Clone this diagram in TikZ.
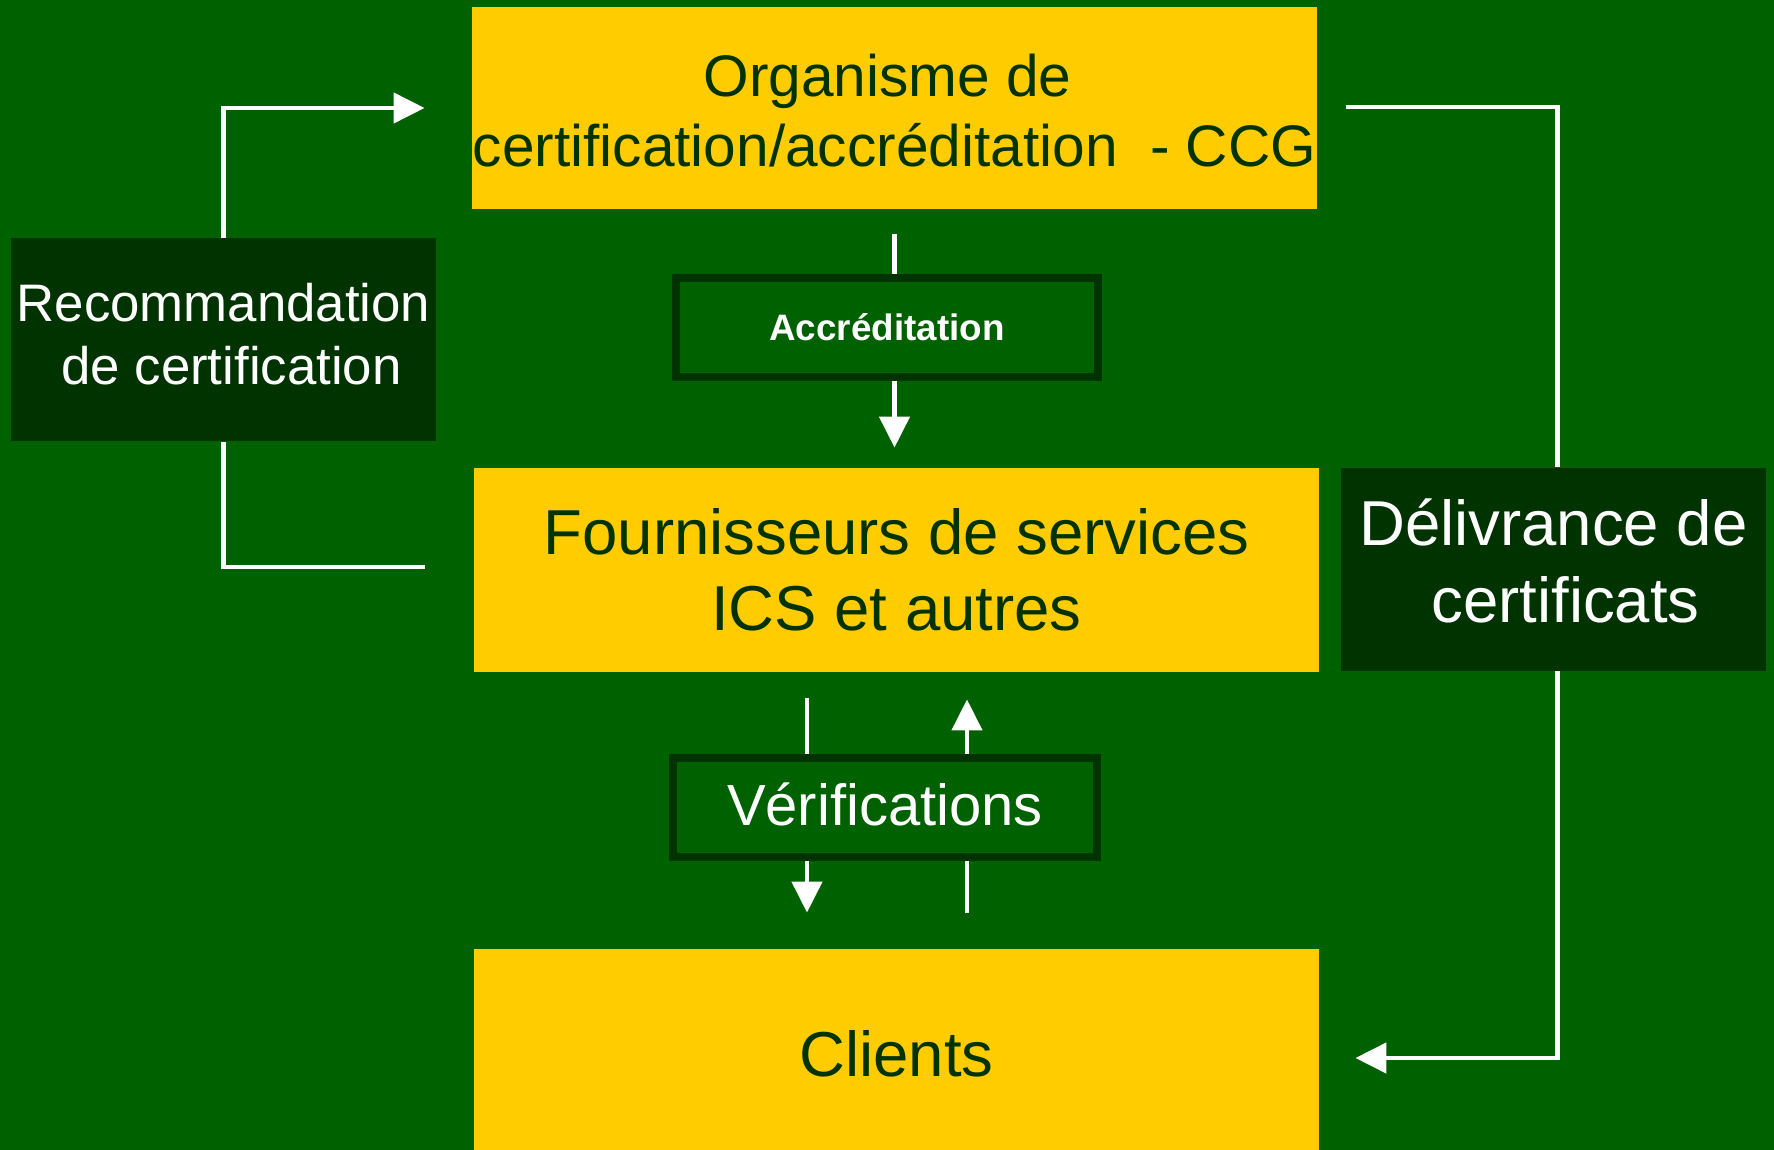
\documentclass[tikz,border=0pt]{standalone}
\usepackage{fontspec}
\setmainfont{Liberation Sans}
\usepackage{xcolor}
\usepackage{tikz}
\usetikzlibrary{arrows.meta,calc,positioning}

\definecolor{bggreen}{RGB}{0,97,0}
\definecolor{darkgreen}{RGB}{0,51,0}
\definecolor{gold}{RGB}{255,204,0}

\tikzset{
    yellowbox/.style={fill=gold, text=darkgreen, inner sep=0pt, align=center, minimum width=422.5pt},
    darkbox/.style={fill=darkgreen, text=white, inner sep=0pt, align=center, minimum width=212.5pt, minimum height=101.5pt},
    labelbox/.style={draw=darkgreen, line width=4pt, fill=bggreen, text=white, inner sep=0pt, align=center, minimum height=49.5pt},
    wline/.style={draw=white, line width=2.25pt},
    warrow/.style={wline, -{Triangle[length=15.5pt,width=15pt]}},
}

\begin{document}
\begin{tikzpicture}[x=0.5pt, y=-0.5pt]
    \useasboundingbox (0,0) rectangle (1774,1150);
    \fill[bggreen] (0,0) rectangle (1774,1150);

    % Main boxes
    \node[yellowbox, minimum height=101pt, font=\fontsize{29.3pt}{35pt}\selectfont] (org) at (894.5,108) {\rule{0pt}{24pt}Organisme de\kern7pt\\certification/accréditation~ - CCG};
    \node[yellowbox, minimum height=102pt, font=\fontsize{31.75pt}{38pt}\selectfont] (fourn) at (896.5,570) {Fournisseurs de services\\ICS et autres};
    \node[yellowbox, minimum height=100.5pt, text height=27.2pt, text depth=0pt, font=\fontsize{31.75pt}{38pt}\selectfont] (clients) at (896.5,1049.5) {Clients};

    % Side boxes
    \node[darkbox, font=\fontsize{26.4pt}{31.5pt}\selectfont] (recom) at (223.5,340) {Recommandation\\\kern8pt de certification\rule[-5.7pt]{0pt}{5.7pt}};
    \node[darkbox, font=\fontsize{31.75pt}{38.5pt}\selectfont] (deliv) at (1553.5,569) {Délivrance de\\\kern12pt certificats\rule[-8.5pt]{0pt}{8.5pt}};

    % Flow labels
    \node[labelbox, minimum width=211pt, font=\fontsize{18.4pt}{22pt}\selectfont\bfseries] (accr) at (887,327.5) {Accréditation};
    \node[labelbox, minimum width=212pt, text depth=3.5pt, font=\fontsize{29pt}{35pt}\selectfont] (verif) at (885,807.5) {Vérifications};

    % Accreditation arrow
    \draw[wline] ($(org.south)+(0,25)$) -- (accr.north -| org.south);
    \draw[warrow] (accr.south -| org.south) -- ($(org.south |- fourn.north)+(0,-20)$);

    % Verification arrows
    \coordinate (down) at (807,0);
    \coordinate (up) at (967,0);
    \draw[wline] ($(fourn.south -| down)+(0,26)$) -- (verif.north -| down);
    \draw[warrow] (verif.south -| down) -- ($(clients.north -| down)+(0,-36)$);
    \draw[wline] ($(clients.north -| up)+(0,-36)$) -- (verif.south -| up);
    \draw[warrow] (verif.north -| up) -- ($(fourn.south -| up)+(0,27)$);

    % Recommendation loop
    \draw[wline] ($(fourn.west)+(-49,-3)$) -| (recom.south);
    \draw[warrow] (recom.north) |- ($(org.west)+(-47,0)$);

    % Certificate delivery loop
    \draw[wline] ($(org.east)+(29,-1)$) -| ($(deliv.north)+(4,0)$);
    \draw[warrow] ($(deliv.south)+(4,0)$) |- ($(clients.east)+(36,8.5)$);
\end{tikzpicture}
\end{document}
